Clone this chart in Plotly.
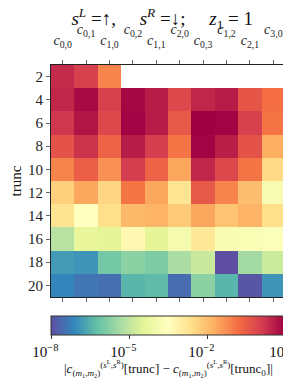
import plotly.graph_objects as go

# Column labels (coefficients) and row labels (truncation)
col_labels = ["<i>c</i><sub>0,0</sub>", "<i>c</i><sub>0,1</sub>", "<i>c</i><sub>1,0</sub>", "<i>c</i><sub>0,2</sub>",
              "<i>c</i><sub>1,1</sub>", "<i>c</i><sub>2,0</sub>", "<i>c</i><sub>0,3</sub>", "<i>c</i><sub>1,2</sub>",
              "<i>c</i><sub>2,1</sub>", "<i>c</i><sub>3,0</sub>"]
trunc = [2, 4, 6, 8, 10, 12, 14, 16, 18, 20]

# log10 |c[trunc] - c[trunc0]| (None = no value)
row_2 = [0.4, 0.05, -1.1, None, None, None, None, None, None, None]
row_4 = [0.45, 0.85, 0.05, 0.9, 0.6, -0.1, 0.45, 0.6, -0.35, -0.8]
row_6 = [0.2, 0.7, -0.1, 0.95, 0.6, -0.4, 1.0, 0.95, 0.05, -0.9]
row_8 = [-0.3, 0.25, -0.6, 0.6, 0.1, -0.9, 0.95, 0.55, -0.3, -1.7]
row_10 = [-1.1, -0.5, -1.3, 0.1, -0.6, -1.6, 0.45, -0.1, -0.9, -2.5]
row_12 = [-2.3, -1.6, -2.4, -0.9, -1.6, -2.75, -0.4, -1.1, -2.0, -3.8]
row_14 = [-2.7, -3.5, -2.6, -1.9, -1.8, -2.2, -1.6, -2.1, -1.8, -2.6]
row_16 = [-5.1, -4.3, -4.4, -3.3, -4.4, -3.9, -2.85, -3.8, -3.7, -3.6]
row_18 = [-6.8, -6.9, -6.0, -5.7, -5.9, -5.3, -4.85, -8.0, -5.4, -4.8]
row_20 = [-7.15, -7.4, -7.5, -6.4, -6.3, -7.55, -5.7, -6.4, -7.9, -6.9]

cbar_tickvals = [-8, -5, -2, 1]
cbar_ticktext = ["10<sup>−8</sup>", "10<sup>−5</sup>", "10<sup>−2</sup>", "10<sup>1</sup>"]

z = [row_2, row_4, row_6, row_8, row_10, row_12, row_14, row_16, row_18, row_20]
xs = list(range(len(col_labels)))

spectral_r = ['#5e4fa2', '#3288bd', '#66c2a5', '#abdda4', '#e6f598', '#ffffbf',
              '#fee08b', '#fdae61', '#f46d43', '#d53e4f', '#9e0142']
cs = [[i / 10, c] for i, c in enumerate(spectral_r)]

FONT = "Liberation Serif"
PAD = "\u00a0\u00a0\u00a0"  # trailing pad to re-centre superscripted tick labels

fig = go.Figure()
fig.add_trace(go.Heatmap(
    z=z, x=xs, y=trunc, colorscale=cs, zmin=-8, zmax=1,
    colorbar=dict(
        orientation="h", x=0.5, xanchor="center", y=-0.082, yanchor="top",
        len=1.0, lenmode="fraction", thickness=19, xpad=0, ypad=0,
        outlinewidth=1, outlinecolor="#333",
        tickvals=cbar_tickvals, ticktext=[t + PAD for t in cbar_ticktext],
        ticks="outside", ticklen=4, tickcolor="#333", ticklabeloverflow="allow",
        tickfont=dict(family=FONT, size=15, color="#111"),
    ),
    hoverongaps=False,
))

cbar_title = ("|<i>c</i><sub>(<i>m</i><sub>1</sub>,<i>m</i><sub>2</sub>)</sub><sup>(<i>s</i><sup>L</sup>,<i>s</i><sup>R</sup>)</sup>[trunc] − "
              "<i>c</i><sub>(<i>m</i><sub>1</sub>,<i>m</i><sub>2</sub>)</sub><sup>(<i>s</i><sup>L</sup>,<i>s</i><sup>R</sup>)</sup>[trunc<sub>0</sub>]|")
fig.add_annotation(text=cbar_title, xref="paper", yref="paper", x=0.5, y=-0.31,
                   xanchor="center", yanchor="middle", showarrow=False,
                   font=dict(family=FONT, size=13, color="#111"))

even_ticktext = [t if i % 2 == 0 else "" for i, t in enumerate(col_labels)]
odd_vals = [i for i in xs if i % 2 == 1]
odd_text = [col_labels[i] for i in odd_vals]

fig.update_layout(
    width=291, height=385,
    margin=dict(l=43, r=14, t=57, b=96, autoexpand=False),
    paper_bgcolor="white", plot_bgcolor="white",
    font=dict(family=FONT, color="#111"),
    title=dict(
        text="<i>s</i><sup><i>L</i></sup> =↑,     <i>s</i><sup><i>R</i></sup> =↓;     <i>z</i><sub>1</sub> = 1",
        x=0.53, xanchor="center", y=0.972, yanchor="middle",
        font=dict(family=FONT, size=19, color="#111")),
    xaxis=dict(
        side="top", range=[-0.5, 9.5], tickvals=xs, ticktext=even_ticktext, automargin=False,
        ticks="outside", ticklen=4, tickcolor="#666", showgrid=False, zeroline=False,
        showline=True, linecolor="#222", linewidth=1, mirror="ticks", ticklabelstandoff=9,
        tickfont=dict(family=FONT, size=14, color="#222"),
    ),
    xaxis2=dict(
        overlaying="x", side="top", anchor="y", range=[-0.5, 9.5], tickvals=odd_vals, ticktext=odd_text,
        automargin=False, ticks="", showgrid=False, zeroline=False, showline=False, ticklabelstandoff=27,
        tickfont=dict(family=FONT, size=14, color="#222"),
    ),
    yaxis=dict(
        range=[21, 1], tickvals=trunc, ticks="outside", ticklen=4, tickcolor="#666", automargin=False,
        showgrid=False, zeroline=False, showline=True, linecolor="#222", linewidth=1, mirror=True,
        tickfont=dict(family=FONT, size=15, color="#222"),
        title=dict(text="trunc", font=dict(family=FONT, size=15, color="#111"), standoff=6),
    ),
)
# invisible helper so the second (staggered) label axis is drawn
fig.add_trace(go.Scatter(x=[None], y=[None], xaxis="x2", yaxis="y", showlegend=False, hoverinfo="skip"))

fig.write_html("out.html")
